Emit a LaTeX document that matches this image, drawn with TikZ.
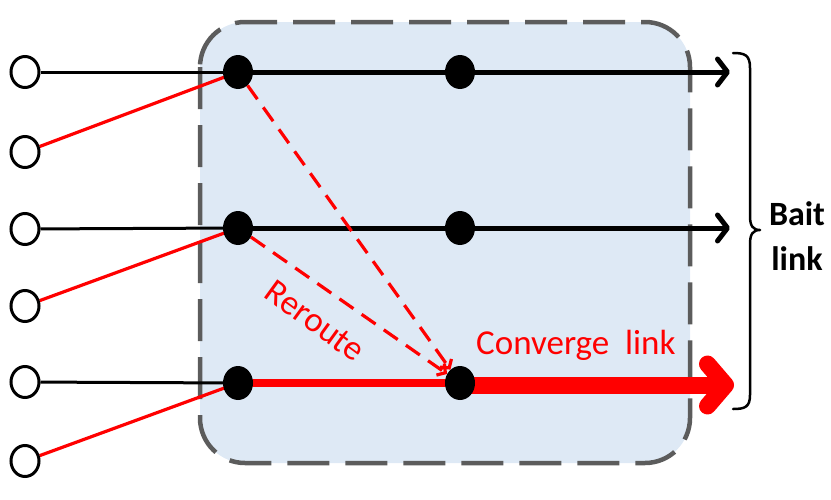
\documentclass[tikz,border=0pt]{standalone}
\usepackage{fontspec}
\setmainfont{Carlito}
\usetikzlibrary{arrows.meta,shapes.geometric}
\definecolor{boxfill}{HTML}{DEE9F5}
\definecolor{boxline}{HTML}{5C5C5C}
\definecolor{myred}{HTML}{FF0000}
\pgfdeclarelayer{back}
\pgfdeclarelayer{lines}
\pgfsetlayers{back,lines,main}
\begin{document}
\begin{tikzpicture}[x=1pt,y=-1pt,
  src/.style={ellipse,draw=black,line width=3pt,fill=white,minimum width=28pt,minimum height=31pt,inner sep=0pt},
  dot/.style={ellipse,fill=black,minimum width=30pt,minimum height=34pt,inner sep=0pt},
  thinblack/.style={draw=black,line width=3pt},
  thinred/.style={draw=myred,line width=3.2pt},
  baitline/.style={draw=black,line width=5pt,-{Straight Barb[length=10pt,width=26pt,round]}},
  reroute/.style={draw=myred,line width=3.2pt,dash pattern=on 17pt off 10pt,-{Straight Barb[length=6pt,width=14pt]}},
  lbl/.style={text=myred,font=\fontsize{35}{40}\selectfont,inner sep=0pt}
]
\useasboundingbox (0,0) rectangle (831,499);
% box
\begin{pgfonlayer}{back}
\draw[boxline,fill=boxfill,line width=4.5pt,dash pattern=on 42pt off 16pt,rounded corners=45pt]
  (200,22) rectangle (690,463);
\end{pgfonlayer}
% source circles
\node[src] (c1) at (25,72) {};
\node[src] (c2) at (25,152) {};
\node[src] (c3) at (25,229) {};
\node[src] (c4) at (25,306) {};
\node[src] (c5) at (25,382) {};
\node[src] (c6) at (25,461) {};
% dots
\node[dot] (a1) at (238,72) {};
\node[dot] (b1) at (460,72) {};
\node[dot] (a2) at (238,228) {};
\node[dot] (b2) at (460,228) {};
\node[dot] (a3) at (238,383) {};
\node[dot] (b3) at (460,383) {};
\coordinate (e1) at (730,72);
\coordinate (e2) at (730,228);
\coordinate (e3) at (734,385);
\begin{pgfonlayer}{lines}
\draw[thinblack] (c1) -- (a1.center);
\draw[thinblack] (c3) -- (a2.center);
\draw[thinblack] (c5) -- (a3.center);
\draw[thinred] (c2) -- (a1.center);
\draw[thinred] (c4) -- (a2.center);
\draw[thinred] (c6) -- (a3.center);
\draw[baitline] (a1.center) -- (e1);
\draw[baitline] (a2.center) -- (e2);
\draw[draw=myred,line width=8pt,line cap=round] (a3.east) -- (b3.center);
\draw[draw=myred,line width=17pt,-{Straight Barb[length=18pt,width=42pt,round]}] (b3.center |- e3) -- (e3);
\draw[reroute] (a1) -- (b3);
\draw[reroute] (a2) -- (b3);
\end{pgfonlayer}
% labels
\node[lbl,rotate=-36] (rr) at (315,321) {Reroute};
\node[lbl,anchor=base west] (cl) at (476,354) {Converge\ \ link};
% brace
\draw[black,line width=2.5pt,line cap=round,line join=round]
  (733,53) .. controls (745,53) and (750,55) .. (750,68) -- (750,216)
  .. controls (750,226) and (753,230) .. (760,230)
  .. controls (753,230) and (750,234) .. (750,244) -- (750,395)
  .. controls (750,407) and (745,409) .. (733,409);
\node[font=\bfseries\fontsize{34}{45}\selectfont,align=center,inner sep=0pt] (bait) at (797,236) {Bait\\link};
\end{tikzpicture}
\end{document}
